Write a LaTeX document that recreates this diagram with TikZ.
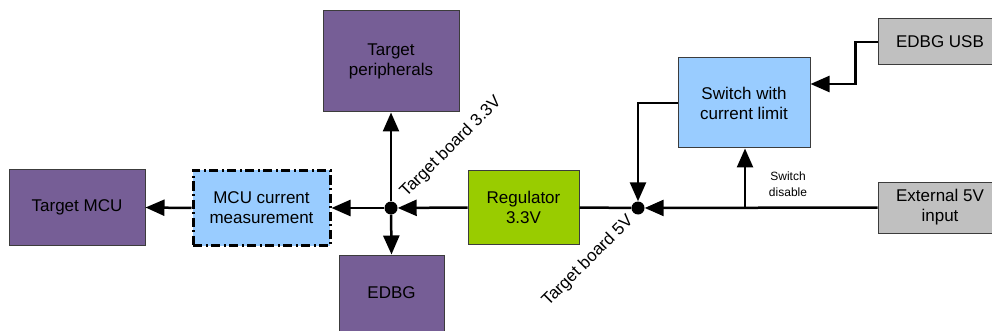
\documentclass[tikz,border=0pt]{standalone}
\usepackage{fontspec}
\setmainfont{Liberation Sans}
\usetikzlibrary{arrows.meta}

\definecolor{tgtpurple}{RGB}{118,94,150}
\definecolor{swblue}{RGB}{153,204,255}
\definecolor{reggreen}{RGB}{153,204,0}
\definecolor{pwrgray}{RGB}{192,192,192}
\definecolor{edgegray}{RGB}{60,60,60}

\begin{document}
\begin{tikzpicture}[x=1pt, y=-1pt,
    font=\fontsize{17}{20}\selectfont,
    box/.style={draw=edgegray, line width=1pt, align=center, inner sep=0pt},
    wire/.style={black, line width=2.5pt},
    arr/.style={wire, -{Triangle[length=19pt, width=16pt]}},
    dot/.style={circle, fill=black, inner sep=0pt, minimum size=13pt}]
    \useasboundingbox (0,0) rectangle (992,331);
    \clip (0,0) rectangle (992,331);

    % blocks
    \node[box, fill=tgtpurple, minimum width=136pt, minimum height=75pt] (mcu) at (77,207.5) {Target MCU};
    \node[box, fill=swblue, draw=black, line width=3pt, dash pattern=on 9pt off 3.5pt on 2pt off 3.5pt,
          minimum width=137pt, minimum height=75pt] (meas) at (261.5,208) {MCU current\\measurement};
    \node[box, fill=tgtpurple, minimum width=136pt, minimum height=101pt] (periph) at (391,61.5) {Target\\peripherals};
    \node[box, fill=tgtpurple, minimum width=105pt, minimum height=76pt] (edbg) at (391.5,293) {EDBG};
    \node[box, fill=reggreen, minimum width=111pt, minimum height=73pt] (reg) at (523.5,207.5) {Regulator\\3.3V};
    \node[box, fill=swblue, minimum width=132pt, minimum height=90pt] (switch) at (744,103) {Switch with\\current limit};
    \node[box, fill=pwrgray, minimum width=124pt, minimum height=46pt] (usb) at (940,42) {EDBG USB};
    \node[box, fill=pwrgray, minimum width=124pt, minimum height=51pt] (ext) at (940,207.5) {External 5V\\input};

    % junctions
    \node[dot] (j33) at (391,208) {};
    \node[dot] (j5) at (638,208) {};
    \coordinate (tap) at (745,208);

    % connections
    \draw[arr] (meas.west) -- (mcu.east);
    \draw[arr] (j33) -- (meas.east);
    \draw[arr] (reg.west) -- (j33);
    \draw[arr] (j33) -- (periph.south);
    \draw[arr] (j33) -- (edbg.north);
    \draw[wire] (reg.east) -- (j5);
    \draw[arr] (ext.west) -- (j5);
    \draw[arr] (tap) -- (tap |- switch.south);
    \draw[arr] (usb.west) -- ++(-22,0) |- ([yshift=19pt]switch.east);
    \draw[arr] (switch.west) -| (j5);

    % labels
    \node[rotate=45] (l33) at (451,147) {Target board 3.3V};
    \node[rotate=45] (l5) at (588,261) {Target board 5V};
    \node[align=center, font=\fontsize{12}{16}\selectfont] (swdis) at (788,184) {Switch\\disable};
\end{tikzpicture}
\end{document}
